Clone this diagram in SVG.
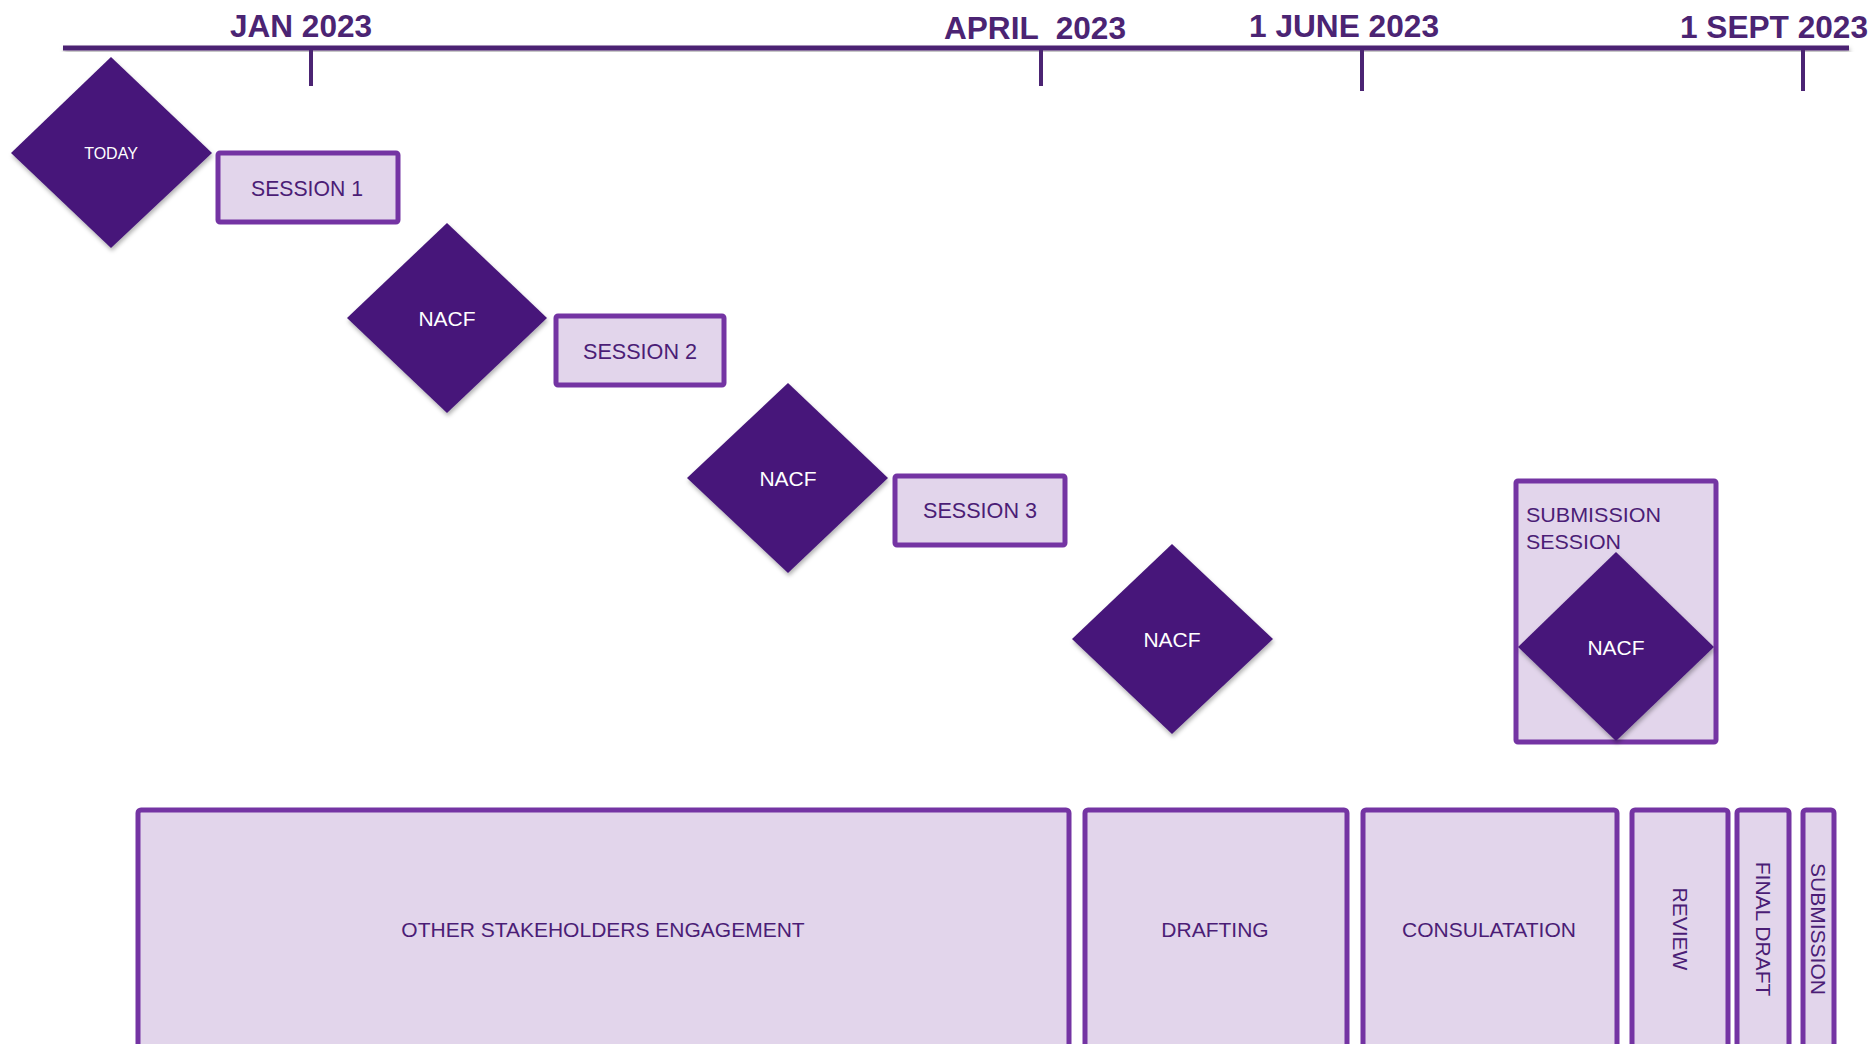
<svg xmlns="http://www.w3.org/2000/svg" width="1874" height="1044" viewBox="0 0 1874 1044">
<defs>
<filter id="sh" x="-20%" y="-20%" width="140%" height="140%"><feDropShadow dx="1" dy="3" stdDeviation="2" flood-color="#000" flood-opacity="0.3"/></filter>
<style>
.tl{fill:#4b2473}
.tk{stroke:#4b2473;stroke-width:4;fill:none}
.lab{font-family:"Liberation Sans",Arial,sans-serif;font-weight:bold;font-size:31px;fill:#4b2473}
.dia{fill:#47187a}
.dt{font-family:"Liberation Sans",Arial,sans-serif;font-size:21px;fill:#fff;text-anchor:middle;dominant-baseline:central}
.box{fill:#e2d5eb;stroke:#7434a3;stroke-width:5}
.bt{font-family:"Liberation Sans",Arial,sans-serif;font-size:21px;fill:#4b1d76;text-anchor:middle;dominant-baseline:central}
.lt{font-family:"Liberation Sans",Arial,sans-serif;font-size:21px;fill:#4b1d76}
</style>
</defs>
<rect width="1874" height="1044" fill="#fff"/>
<g id="timeline">
<rect class="tl" x="63" y="45.5" width="1786" height="5" filter="url(#sh)"/>
<line class="tk" x1="311" y1="50" x2="311" y2="86"/>
<line class="tk" x1="1041" y1="50" x2="1041" y2="86"/>
<line class="tk" x1="1362" y1="50" x2="1362" y2="91"/>
<line class="tk" x1="1803" y1="50" x2="1803" y2="91"/>
<text class="lab" x="230" y="37" textLength="142" lengthAdjust="spacingAndGlyphs">JAN 2023</text>
<text class="lab" x="944" y="39" textLength="182" lengthAdjust="spacingAndGlyphs" xml:space="preserve">APRIL  2023</text>
<text class="lab" x="1249" y="37" textLength="190" lengthAdjust="spacingAndGlyphs">1 JUNE 2023</text>
<text class="lab" x="1680" y="38" textLength="188" lengthAdjust="spacingAndGlyphs">1 SEPT 2023</text>
</g>
<g id="connectors"></g>
<g id="today">
<polygon class="dia" points="111,57 212,153 111,248 11,153" filter="url(#sh)"/>
<text class="dt" x="111" y="153" style="font-size:16px">TODAY</text>
</g>
<g id="session1">
<rect class="box" x="218" y="153" width="180" height="69" rx="2"/>
<text class="bt" x="307" y="188" textLength="112" lengthAdjust="spacingAndGlyphs" style="font-size:22px">SESSION 1</text>
</g>
<g id="nacf1">
<polygon class="dia" points="447,223 547,318 447,413 347,318" filter="url(#sh)"/>
<text class="dt" x="447" y="318">NACF</text>
</g>
<g id="session2">
<rect class="box" x="556" y="316" width="168" height="69" rx="2"/>
<text class="bt" x="640" y="351" textLength="114" lengthAdjust="spacingAndGlyphs" style="font-size:22px">SESSION 2</text>
</g>
<g id="nacf2">
<polygon class="dia" points="788,383 888,478 788,573 687,478" filter="url(#sh)"/>
<text class="dt" x="788" y="478">NACF</text>
</g>
<g id="session3">
<rect class="box" x="895" y="476" width="170" height="69" rx="2"/>
<text class="bt" x="980" y="510" textLength="114" lengthAdjust="spacingAndGlyphs" style="font-size:22px">SESSION 3</text>
</g>
<g id="nacf3">
<polygon class="dia" points="1172,544 1273,639 1172,734 1072,639" filter="url(#sh)"/>
<text class="dt" x="1172" y="639">NACF</text>
</g>
<g id="submission-session">
<rect class="box" x="1516" y="481" width="200" height="261" rx="2"/>
<text class="lt" x="1526" y="522" textLength="135" lengthAdjust="spacingAndGlyphs">SUBMISSION</text>
<text class="lt" x="1526" y="549" textLength="95" lengthAdjust="spacingAndGlyphs">SESSION</text>
</g>
<g id="nacf4">
<polygon class="dia" points="1616,552 1714,647 1616,741 1518,647" filter="url(#sh)"/>
<text class="dt" x="1616" y="647">NACF</text>
</g>
<g id="stakeholders">
<rect class="box" x="138" y="810" width="931" height="260" rx="3"/>
<text class="bt" x="603" y="929">OTHER STAKEHOLDERS ENGAGEMENT</text>
</g>
<g id="drafting">
<rect class="box" x="1085" y="810" width="262" height="260" rx="3"/>
<text class="bt" x="1215" y="929">DRAFTING</text>
</g>
<g id="consultation">
<rect class="box" x="1363" y="810" width="254" height="260" rx="3"/>
<text class="bt" x="1489" y="929">CONSULATATION</text>
</g>
<g id="review">
<rect class="box" x="1632" y="810" width="96" height="260" rx="3"/>
<text class="bt" transform="translate(1680,929) rotate(90)">REVIEW</text>
</g>
<g id="final-draft">
<rect class="box" x="1737" y="810" width="52" height="260" rx="3"/>
<text class="bt" transform="translate(1763,929) rotate(90)">FINAL DRAFT</text>
</g>
<g id="submission">
<rect class="box" x="1803" y="810" width="31" height="260" rx="3"/>
<text class="bt" transform="translate(1818,929) rotate(90)">SUBMISSION</text>
</g>
</svg>
